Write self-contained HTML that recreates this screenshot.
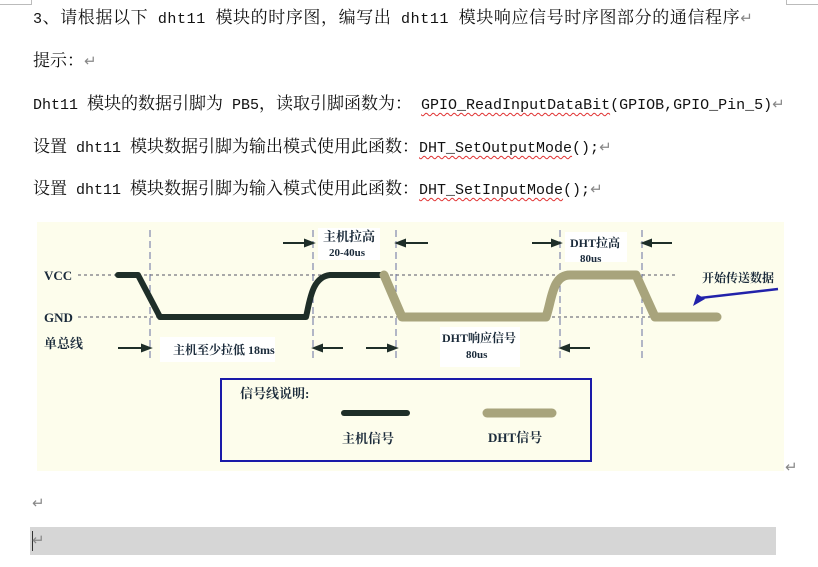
<!DOCTYPE html>
<html><head><meta charset="utf-8"><style>
body{margin:0;width:818px;height:567px;background:#fff;overflow:hidden;position:relative;font-family:"Liberation Mono","Noto Serif CJK SC",serif;color:#111}
.t{position:absolute;font-size:17px;white-space:nowrap;line-height:22px}
.t i{font-style:normal;font-size:15px}
.u{text-decoration:underline wavy #e03030;text-decoration-thickness:1px;text-underline-offset:3px}
.r{color:#888;font-size:15px}
</style></head><body>
<div style="position:absolute;left:0;top:0;width:31px;height:4px;border-right:1px solid #bbb;border-bottom:1px solid #bbb"></div>
<div style="position:absolute;left:786px;top:0;width:31px;height:4px;border-left:1px solid #bbb;border-bottom:1px solid #bbb"></div>
<div class="t" style="left:33px;top:9px;letter-spacing:0.6px"><i>3</i>、请根据以下<i> dht11 </i>模块的时序图，编写出<i> dht11 </i>模块响应信号时序图部分的通信程序<span class="r">↵</span></div>
<div class="t" style="left:33px;top:52px">提示：<span class="r">↵</span></div>
<div class="t" style="left:33px;top:95px"><i>Dht11 </i>模块的数据引脚为<i> PB5</i>，读取引脚函数为：<i> <span class="u">GPIO_ReadInputDataBit</span>(GPIOB,GPIO_Pin_5)</i><span class="r">↵</span></div>
<div class="t" style="left:33px;top:138px">设置<i> dht11 </i>模块数据引脚为输出模式使用此函数：<i><span class="u">DHT_SetOutputMode</span>();</i><span class="r">↵</span></div>
<div class="t" style="left:33px;top:180px">设置<i> dht11 </i>模块数据引脚为输入模式使用此函数：<i><span class="u">DHT_SetInputMode</span>();</i><span class="r">↵</span></div>

<svg style="position:absolute;left:0;top:0" width="818" height="567" font-family="Liberation Serif,Noto Serif CJK SC,serif" font-weight="bold">
<rect x="37" y="222" width="747" height="249" fill="#fdfdec"/>
<g stroke="#556" stroke-width="1" stroke-dasharray="3,3">
<line x1="78" y1="275" x2="675" y2="275"/><line x1="78" y1="317" x2="675" y2="317"/>
</g>
<g stroke="#6670a0" stroke-width="1" stroke-dasharray="7,4">
<line x1="150" y1="230" x2="150" y2="362"/><line x1="313" y1="230" x2="313" y2="362"/>
<line x1="396" y1="230" x2="396" y2="362"/><line x1="560" y1="230" x2="560" y2="362"/>
<line x1="642" y1="230" x2="642" y2="362"/>
</g>
<rect x="318" y="228" width="62" height="32" fill="#fff"/>
<rect x="565" y="232" width="62" height="30" fill="#fff"/>
<rect x="160" y="337" width="115" height="25" fill="#fff"/>
<rect x="440" y="327" width="80" height="40" fill="#fff"/>
<path d="M118 275 H138 L160 317 H306 C310 300 312 277 330 275 H382" fill="none" stroke="#1e2e28" stroke-width="6" stroke-linecap="round" stroke-linejoin="round"/>
<path d="M384 275 L402 317 H546 C552 300 552 275 570 275 H636 L655 317 H717" fill="none" stroke="#a8a47c" stroke-width="9" stroke-linecap="round" stroke-linejoin="round"/>
<g stroke="#1e2e28" stroke-width="2" fill="#1e2e28">
<line x1="283" y1="243" x2="308" y2="243"/><path d="M313 243 l-8 -3 v6z"/>
<line x1="402" y1="243" x2="428" y2="243"/><path d="M397 243 l8 -3 v6z"/>
<line x1="532" y1="243" x2="555" y2="243"/><path d="M560 243 l-8 -3 v6z"/>
<line x1="647" y1="243" x2="672" y2="243"/><path d="M643 243 l8 -3 v6z"/>
<line x1="118" y1="348" x2="145" y2="348"/><path d="M150 348 l-8 -3 v6z"/>
<line x1="318" y1="348" x2="343" y2="348"/><path d="M314 348 l8 -3 v6z"/>
<line x1="366" y1="348" x2="391" y2="348"/><path d="M396 348 l-8 -3 v6z"/>
<line x1="565" y1="348" x2="590" y2="348"/><path d="M561 348 l8 -3 v6z"/>
</g>
<line x1="778" y1="289" x2="700" y2="298" stroke="#2222aa" stroke-width="2.5"/>
<path d="M693 306 l4 -12 l8 5z" fill="#2222aa"/>
<g fill="#1a2a3a" font-size="13">
<text x="44" y="280">VCC</text><text x="44" y="322">GND</text>
<text x="44" y="348">单总线</text>
<text x="323" y="241">主机拉高</text><text x="329" y="256" font-size="11">20-40us</text>
<text x="570" y="247" font-size="12">DHT拉高</text><text x="580" y="262" font-size="11">80us</text>
<text x="702" y="282" font-size="12">开始传送数据</text>
<text x="173" y="354" font-size="12">主机至少拉低 18ms</text>
<text x="442" y="342" font-size="12">DHT响应信号</text><text x="466" y="358" font-size="11">80us</text>
</g>
<rect x="221" y="379" width="370" height="82" fill="none" stroke="#1a1aa8" stroke-width="2"/>
<line x1="344" y1="413" x2="407" y2="413" stroke="#1e2e28" stroke-width="6" stroke-linecap="round"/>
<line x1="487" y1="413" x2="552" y2="413" stroke="#a8a47c" stroke-width="9" stroke-linecap="round"/>
<g fill="#1a2a3a" font-size="13">
<text x="240" y="398">信号线说明:</text>
<text x="342" y="443">主机信号</text>
<text x="488" y="442">DHT信号</text>
</g>
</svg>
<div class="t r" style="left:785px;top:458px">↵</div>
<div class="t r" style="left:32px;top:494px">↵</div>
<div style="position:absolute;left:30px;top:527px;width:746px;height:28px;background:#d6d6d6"></div>
<div style="position:absolute;left:32px;top:531px;width:1px;height:20px;background:#333"></div>
<div class="t r" style="left:32px;top:531px">↵</div>
</body></html>
